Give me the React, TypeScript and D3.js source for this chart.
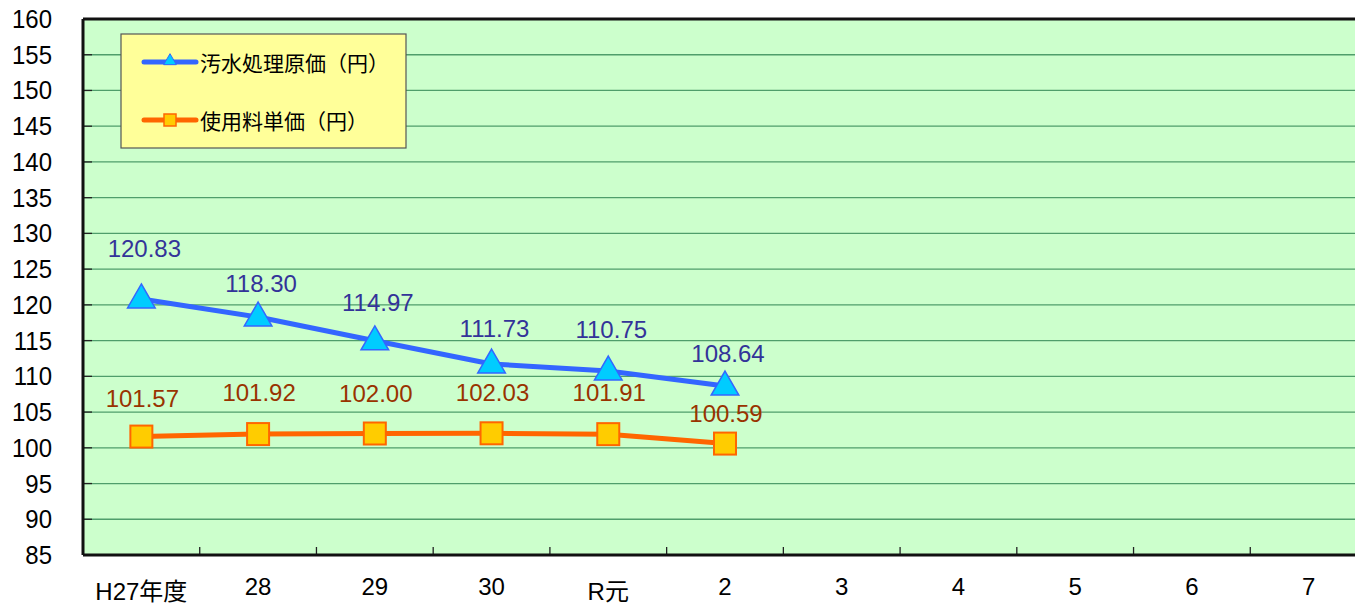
import React from "react";
import * as d3 from "d3";

const categories = ["H27年度", "28", "29", "30", "R元", "2", "3", "4", "5", "6", "7"];
const sewageCost = [120.83, 118.3, 114.97, 111.73, 110.75, 108.64];
const unitPrice = [101.57, 101.92, 102.0, 102.03, 101.91, 100.59];
const yTicks = [85, 90, 95, 100, 105, 110, 115, 120, 125, 130, 135, 140, 145, 150, 155, 160];
const seriesNames = ["汚水処理原価（円）", "使用料単価（円）"];
// label vertical offsets (style)
const sewageLabelDy = [-51, -34, -39, -36, -42, -33];
const priceLabelDy = [-39, -42, -41, -41, -42, -31];

const W = 1355;
const H = 607;
const left = 83;
const top = 19;
const bottom = 555;
const right = 1367;

export default function App() {
  const x = d3.scaleBand<string>().domain(categories).range([left, right]).padding(0);
  const y = d3.scaleLinear().domain([85, 160]).range([bottom, top]);
  const cx = (i: number) => (x(categories[i]) as number) + x.bandwidth() / 2;
  const line = d3.line<number>().x((_, i) => cx(i)).y((d) => y(d));
  const numFont = "'Liberation Sans', Arial, sans-serif";
  const jpFont = "'Noto Sans CJK JP', sans-serif";
  const tri = d3.symbol().type(d3.symbolTriangle).size(330)();
  const isJp = (c: string) => c === "H27年度" || c === "R元";

  return (
    <svg width={W} height={H} style={{ position: "absolute", left: 0, top: 0 }}>
      <rect x={left} y={top} width={right - left} height={bottom - top} fill="#ccffcc" />
      {yTicks.map((t) => (
        <g key={t}>
          {t !== 85 && t !== 160 && (
            <line x1={left} x2={right} y1={y(t)} y2={y(t)} stroke="#4f9e6b" strokeWidth={1.3} />
          )}
          <line x1={left} x2={left + 9} y1={y(t)} y2={y(t)} stroke="#222" strokeWidth={1.3} />
          <text x={52} y={y(t) + 9} textAnchor="end" fontFamily={numFont} fontSize={24} fill="#000" transform={`translate(0,${y(t) + 9}) scale(1,1.08) translate(0,${-(y(t) + 9)})`}>
            {t}
          </text>
        </g>
      ))}
      {categories.slice(1).map((c) => (
        <line key={c} x1={x(c) as number} x2={x(c) as number} y1={bottom} y2={bottom - 8} stroke="#222" strokeWidth={1.3} />
      ))}
      <line x1={left} x2={right} y1={top} y2={top} stroke="#111" strokeWidth={3} />
      <line x1={left} x2={left} y1={top} y2={bottom} stroke="#111" strokeWidth={3} />
      <line x1={left} x2={right} y1={bottom} y2={bottom} stroke="#111" strokeWidth={3} />
      {categories.map((c, i) => (
        <text
          key={c}
          x={cx(i)}
          y={isJp(c) ? 600 : 595}
          textAnchor="middle"
          fontFamily={isJp(c) ? `'Liberation Sans', 'Noto Sans CJK JP', sans-serif` : numFont}
          fontSize={isJp(c) ? 24 : 24}
          fill="#000"
        >
          {c}
        </text>
      ))}

      <path d={line(sewageCost) || ""} fill="none" stroke="#3366ff" strokeWidth={5} strokeLinejoin="round" />
      <path d={line(unitPrice) || ""} fill="none" stroke="#ff6600" strokeWidth={5} strokeLinejoin="round" />
      {sewageCost.map((v, i) => (
        <path key={i} d={tri || ""} transform={`translate(${cx(i)},${y(v) + 1})`} fill="#00ccff" stroke="#3366ff" strokeWidth={1.5} />
      ))}
      {unitPrice.map((v, i) => (
        <rect key={i} x={cx(i) - 11} y={y(v) - 11} width={22} height={22} fill="#ffcc00" stroke="#ff6600" strokeWidth={2} />
      ))}
      {sewageCost.map((v, i) => (
        <text key={i} x={cx(i) + 3} y={y(v) + sewageLabelDy[i] + 9} textAnchor="middle" fontFamily={numFont} fontSize={24} fill="#333399">
          {v.toFixed(2)}
        </text>
      ))}
      {unitPrice.map((v, i) => (
        <text key={i} x={cx(i) + 1} y={y(v) + priceLabelDy[i] + 9} textAnchor="middle" fontFamily={numFont} fontSize={24} fill="#993300">
          {v.toFixed(2)}
        </text>
      ))}

      <rect x={121} y={34} width={285} height={114} fill="#ffff99" stroke="#555" strokeWidth={1.2} />
      <line x1={144} x2={196} y1={62} y2={62} stroke="#3366ff" strokeWidth={5} strokeLinecap="round" />
      <path d={d3.symbol().type(d3.symbolTriangle).size(70)() || ""} transform="translate(170,61)" fill="#00ccff" stroke="#3366ff" strokeWidth={1} />
      <text x={200} y={71} fontFamily={jpFont} fontSize={21} fill="#000">{seriesNames[0]}</text>
      <line x1={144} x2={196} y1={120} y2={120} stroke="#ff6600" strokeWidth={5} strokeLinecap="round" />
      <rect x={164} y={114} width={12} height={12} fill="#ffcc00" stroke="#ff6600" strokeWidth={1.5} />
      <text x={200} y={129} fontFamily={jpFont} fontSize={21} fill="#000">{seriesNames[1]}</text>
    </svg>
  );
}
